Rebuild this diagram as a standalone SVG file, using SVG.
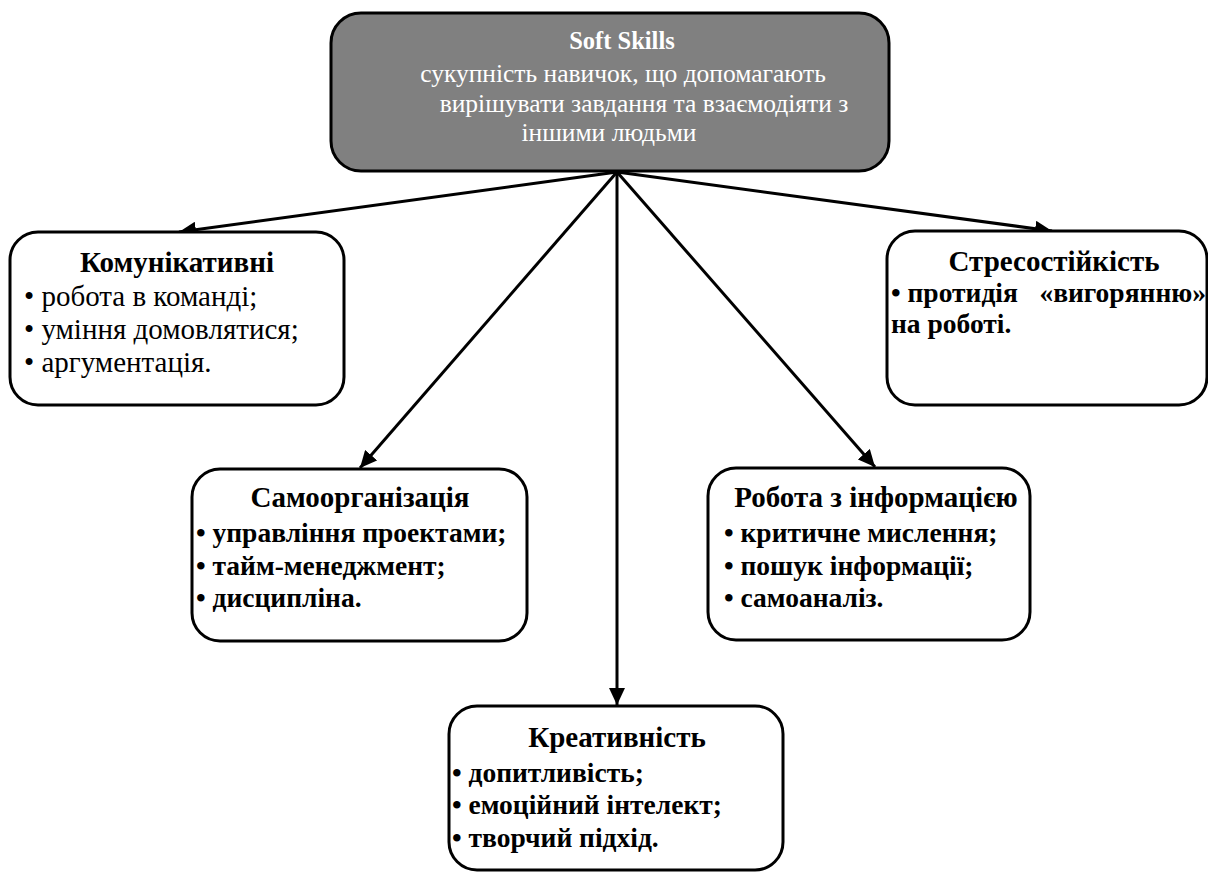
<svg xmlns="http://www.w3.org/2000/svg" width="1208" height="874" viewBox="0 0 1208 874">
<style>
.box{fill:#fff;stroke:#000;stroke-width:3}
.top{fill:#808080;stroke:#000;stroke-width:3}
text{font-family:"Liberation Serif","Times New Roman",serif;font-size:29px;fill:#000}
.t{font-weight:bold;text-anchor:middle;font-size:29px}
.b{font-weight:bold;font-size:27.5px}
.w{fill:#fff;font-size:25.5px;text-anchor:middle}
.c{stroke:#000;stroke-width:3;fill:none;marker-end:url(#ah)}
</style>
<defs>
<marker id="ah" markerUnits="userSpaceOnUse" markerWidth="18" markerHeight="16" refX="17" refY="8" orient="auto">
<path d="M0,0 L17,8 L0,16 z" fill="#000"/>
</marker>
</defs>
<g id="connectors">
<line class="c" x1="617" y1="172" x2="179" y2="232"/>
<line class="c" x1="617" y1="172" x2="360" y2="468"/>
<line class="c" x1="617" y1="172" x2="617" y2="705"/>
<line class="c" x1="617" y1="172" x2="875" y2="467"/>
<line class="c" x1="617" y1="172" x2="1052" y2="231"/>
</g>
<g id="soft-skills">
<rect class="top" x="331" y="13" width="558" height="158" rx="30"/>
<text class="w" x="622" y="49" font-weight="bold" style="font-size:24.5px">Soft Skills</text>
<text class="w" x="623" y="82">сукупність навичок, що допомагають</text>
<text class="w" x="644" y="112">вирішувати завдання та взаємодіяти з</text>
<text class="w" x="609" y="141">іншими людьми</text>
</g>
<g id="komunikatyvni">
<rect class="box" x="10" y="232" width="334" height="173" rx="28"/>
<text class="t" x="177" y="272">Комунікативні</text>
<text x="24" y="306">• робота в команді;</text>
<text x="24" y="339">• уміння домовлятися;</text>
<text x="24" y="372">• аргументація.</text>
</g>
<g id="stresostiikist">
<rect class="box" x="887" y="231" width="320" height="174" rx="28"/>
<text class="t" x="1054" y="271">Стресостійкість</text>
<text class="b" x="891" y="302">• протидія</text>
<text class="b" x="1206" y="302" text-anchor="end">«вигорянню»</text>
<text class="b" x="891" y="333">на роботі.</text>
</g>
<g id="samoorganizatsiia">
<rect class="box" x="192" y="469" width="335" height="172" rx="28"/>
<text class="t" x="360" y="507">Самоорганізація</text>
<text class="b" x="196" y="542">• управління проектами;</text>
<text class="b" x="196" y="575">• тайм-менеджмент;</text>
<text class="b" x="196" y="607">• дисципліна.</text>
</g>
<g id="robota">
<rect class="box" x="708" y="468" width="322" height="172" rx="28"/>
<text class="t" x="876" y="507">Робота з інформацією</text>
<text class="b" x="724" y="542">• критичне мислення;</text>
<text class="b" x="724" y="575">• пошук інформації;</text>
<text class="b" x="724" y="607">• самоаналіз.</text>
</g>
<g id="kreatyvnist">
<rect class="box" x="449" y="706" width="334" height="164" rx="28"/>
<text class="t" x="617" y="747">Креативність</text>
<text class="b" x="452" y="782">• допитливість;</text>
<text class="b" x="452" y="814">• емоційний інтелект;</text>
<text class="b" x="452" y="847">• творчий підхід.</text>
</g>
</svg>
